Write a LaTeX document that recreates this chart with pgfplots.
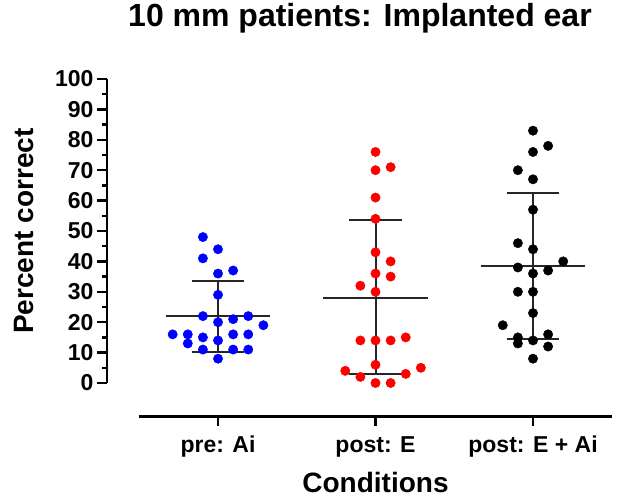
\documentclass[border=0pt]{standalone}
\usepackage{fontspec}
\setmainfont{Liberation Sans}
\usepackage{pgfplots}
\pgfplotsset{compat=1.18}
\begin{document}
\begin{tikzpicture}
\useasboundingbox (-107pt,-120pt) rectangle (514pt,383pt);
\begin{axis}[
  scale only axis, width=506pt, height=304pt,
  xmin=-0.705, xmax=2.508, ymin=0, ymax=100,
  clip=false,
  axis x line=none, axis y line=left,
  axis line style={-, line width=2.5pt, black},
  ytick={0,10,...,100}, minor y tick num=1,
  tick align=outside, major tick length=10pt, minor tick length=5pt,
  tick style={line width=2.5pt, black},
  /pgf/number format/assume math mode=true,
  yticklabel style={font=\fontsize{23}{23}\selectfont\bfseries},
  title={10 mm patients: Implanted ear},
  title style={font=\fontsize{32}{32}\selectfont\bfseries, at={(axis description cs:0.5,1.1513)}, anchor=base},
  ylabel={Percent correct},
  every axis y label/.style={font=\fontsize{28}{28}\selectfont\bfseries, at={(axis description cs:-0.1462,0.5)}, anchor=base, rotate=90},
]
% mean and SD lines
\addplot[black!85, line width=2pt] coordinates {(-0.333,22) (0.333,22)};
\addplot[black!85, line width=2pt] coordinates {(-0.167,33.7) (0.167,33.7)};
\addplot[black!85, line width=2pt] coordinates {(-0.167,10.2) (0.167,10.2)};
\addplot[black!85, line width=2pt] coordinates {(0,10.2) (0,33.7)};
\addplot[black!85, line width=2pt] coordinates {(0.667,28) (1.333,28)};
\addplot[black!85, line width=2pt] coordinates {(0.833,53.6) (1.167,53.6)};
\addplot[black!85, line width=2pt] coordinates {(0.833,3) (1.167,3)};
\addplot[black!85, line width=2pt] coordinates {(1,3) (1,53.6)};
\addplot[black!85, line width=2pt] coordinates {(1.667,38.5) (2.333,38.5)};
\addplot[black!85, line width=2pt] coordinates {(1.833,62.5) (2.167,62.5)};
\addplot[black!85, line width=2pt] coordinates {(1.833,14.5) (2.167,14.5)};
\addplot[black!85, line width=2pt] coordinates {(2,14.5) (2,62.5)};
% points
\addplot[only marks, mark=*, mark size=4.7pt, mark options={fill=blue, draw=blue}] coordinates {
(-0.096,48) (0,44) (-0.096,41) (0,36) (0.096,37) (0,29) (-0.096,22) (0.096,21) (0.192,22) (0,20) (0.288,19)
(-0.288,16) (-0.192,16) (-0.096,15) (0.096,16) (0.192,16) (-0.192,13) (0,14) (-0.096,11) (0.096,11) (0.192,11) (0,8)};
\addplot[only marks, mark=*, mark size=4.7pt, mark options={fill=red, draw=red}] coordinates {
(1,76) (1,70) (1.096,71) (1,61) (1,54) (1,43) (1.096,40) (1,36) (1.096,35) (0.904,32) (1,30)
(0.904,14) (1,14) (1.096,14) (1.192,15) (1,6) (0.808,4) (0.904,2) (1.192,3) (1.288,5) (1,0) (1.096,0)};
\addplot[only marks, mark=*, mark size=4.7pt, mark options={fill=black, draw=black}] coordinates {
(2,83) (2.096,78) (2,76) (1.904,70) (2,67) (2,57) (1.904,46) (2,44) (2.192,40) (1.904,38) (2.096,37)
(2,36) (1.904,30) (2,30) (2,23) (1.808,19) (1.904,15) (2.096,16) (2,14) (1.904,13) (2.096,12) (2,8)};
\end{axis}
\begin{axis}[
  at={(32.25pt,-34pt)}, anchor=south west,
  scale only axis, width=472.5pt, height=10pt,
  xmin=-0.5, xmax=2.5, ymin=0, ymax=1,
  axis y line=none, axis x line=bottom,
  axis line style={-, line width=3pt, black},
  xtick={0,1,2}, xticklabels={pre: Ai, post: E, post: E + Ai},
  tick align=outside, major tick length=9pt,
  tick style={line width=2.5pt, black},
  xticklabel style={font=\fontsize{23}{23}\selectfont\bfseries, anchor=base, yshift=-26pt},
  xlabel={Conditions},
  every axis x label/.style={font=\fontsize{28}{28}\selectfont\bfseries, at={(axis description cs:0.5,0)}, anchor=base, yshift=-75pt},
]
\addplot[draw=none] coordinates {(0,0.5)};
\end{axis}
\end{tikzpicture}
\end{document}
